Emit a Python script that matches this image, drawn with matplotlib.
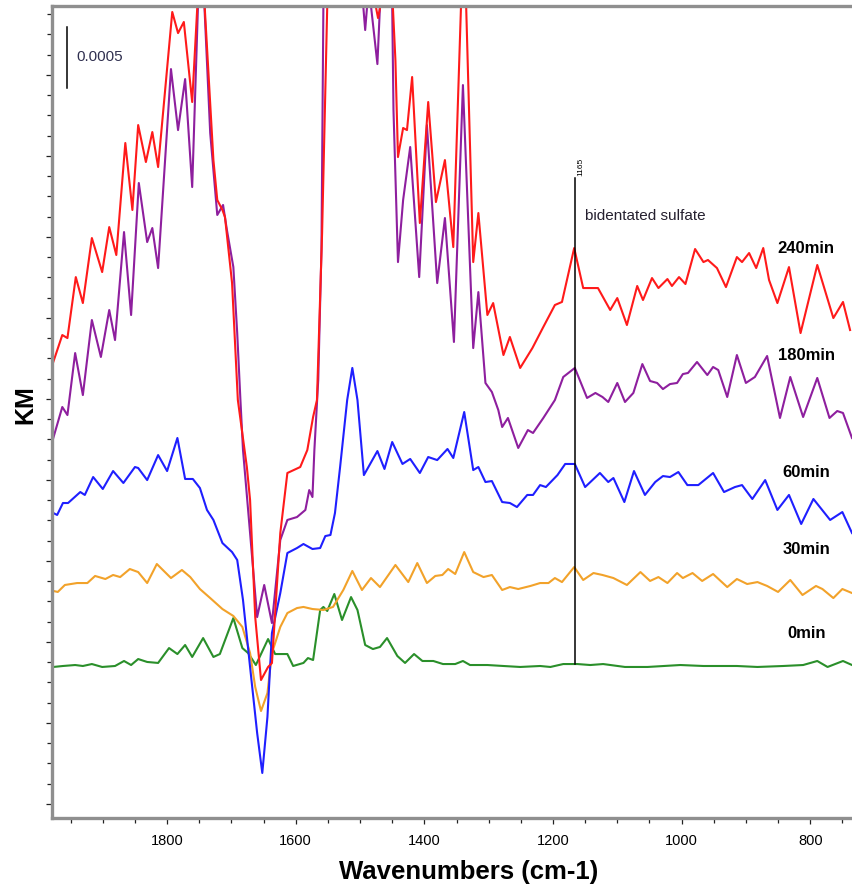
import matplotlib
matplotlib.use("Agg")
import matplotlib.pyplot as plt
import numpy as np
from matplotlib.ticker import MultipleLocator, FixedLocator

plt.rcParams["font.family"] = ["Liberation Sans", "DejaVu Sans"]

# KM values in units of 1e-4 (scale bar = 0.0005 = 5 units); 75 = off the top of the plot
red_wn = [1977, 1963, 1955, 1942, 1931, 1917, 1901, 1890, 1879, 1865, 1854, 1845, 1833, 1823, 1814,
          1792, 1783, 1774, 1761, 1753, 1749, 1741, 1728, 1722, 1714, 1710, 1699, 1690, 1676, 1671,
          1663, 1654, 1643, 1637, 1624, 1613, 1593, 1582, 1573, 1567, 1559, 1551, 1500, 1475, 1472,
          1469, 1459, 1449, 1445, 1441, 1433, 1427, 1419, 1407, 1394, 1382, 1368, 1355, 1343, 1340,
          1335, 1324, 1316, 1302, 1293, 1277, 1267, 1251, 1232, 1215, 1197, 1186, 1167, 1153, 1130,
          1111, 1100, 1085, 1069, 1060, 1046, 1036, 1022, 1015, 1004, 994, 979, 966, 959, 945,
          931, 914, 906, 895, 884, 873, 864, 851, 833, 815, 789, 764, 749, 738]
red_km = [37.38, 39.59, 39.34, 44.34, 42.21, 47.54, 44.75, 48.44, 46.15, 55.33, 49.84, 56.80, 53.77, 56.23, 53.36,
          66.07, 64.34, 65.25, 58.69, 66.56, 75.0, 65.98, 53.93, 50.66, 49.84, 49.26, 43.85, 34.26, 28.77, 26.07,
          16.47, 11.31, 12.38, 12.70, 23.36, 28.28, 28.77, 30.16, 32.87, 34.26, 47.95, 66.56, 75.0, 66.39, 65.57,
          66.39, 75.0, 66.56, 62.13, 54.18, 56.56, 56.39, 60.74, 48.77, 58.69, 50.49, 53.93, 46.80, 66.56, 75.0,
          66.56, 45.57, 49.59, 41.23, 42.21, 37.95, 39.43, 36.89, 38.52, 40.25, 42.05, 42.30, 46.72, 43.44, 43.44,
          41.64, 42.62, 40.41, 43.61, 42.46, 44.26, 43.44, 44.18, 43.61, 44.34, 43.77, 46.64, 45.57, 45.74, 45.08,
          43.52, 45.98, 45.57, 46.31, 45.08, 46.72, 44.10, 42.21, 45.16, 39.75, 45.33, 40.98, 42.30, 40.00]

purple_wn = [1977, 1963, 1955, 1943, 1931, 1917, 1903, 1890, 1881, 1867, 1856, 1844, 1831, 1823, 1814,
             1794, 1783, 1772, 1761, 1752, 1747, 1742, 1733, 1722, 1713, 1707, 1697, 1691, 1686, 1682,
             1671, 1660, 1649, 1637, 1624, 1613, 1598, 1585, 1579, 1574, 1571, 1565, 1560, 1557, 1531,
             1495, 1492, 1489, 1483, 1473, 1469, 1459, 1450, 1448, 1441, 1433, 1422, 1408, 1396, 1380,
             1368, 1354, 1340, 1324, 1316, 1305, 1295, 1285, 1279, 1270, 1254, 1239, 1231, 1215, 1197,
             1184, 1166, 1147, 1134, 1123, 1114, 1100, 1088, 1075, 1061, 1049, 1038, 1029, 1018, 1007,
             998, 990, 976, 960, 951, 943, 929, 914, 900, 886, 867, 847, 831, 811, 789,
             770, 758, 749, 735]
purple_km = [31.15, 33.69, 33.03, 38.11, 34.67, 40.82, 37.79, 41.64, 39.18, 48.03, 41.23, 52.05, 47.21, 48.36, 45.08,
             61.39, 56.39, 60.57, 51.72, 66.56, 75.0, 66.56, 56.15, 49.43, 50.25, 48.20, 45.16, 39.75, 34.26, 30.16,
             23.36, 16.47, 19.10, 15.98, 22.79, 24.43, 24.67, 25.25, 26.88, 26.31, 30.16, 35.90, 46.56, 66.56, 75.0,
             66.56, 64.59, 66.56, 66.56, 61.80, 66.56, 75.0, 66.56, 58.03, 45.57, 50.66, 55.00, 44.34, 56.80, 43.85,
             49.18, 39.02, 60.08, 38.52, 43.11, 35.66, 34.92, 33.44, 32.05, 32.79, 30.33, 31.80, 31.56, 32.79, 34.26,
             36.15, 36.89, 34.43, 34.84, 34.51, 34.10, 35.66, 34.10, 34.84, 37.21, 35.82, 35.66, 35.16, 35.57, 35.66,
             36.39, 36.48, 37.38, 36.31, 36.97, 36.72, 34.51, 37.95, 35.66, 36.15, 37.87, 32.79, 36.15, 32.87, 36.07,
             32.79, 33.36, 33.20, 31.15]

blue_wn = [1977, 1971, 1962, 1954, 1935, 1928, 1915, 1900, 1884, 1868, 1850, 1845, 1831, 1814, 1800,
           1784, 1772, 1760, 1749, 1738, 1728, 1714, 1699, 1691, 1682, 1671, 1660, 1652, 1644, 1637,
           1624, 1613, 1598, 1588, 1574, 1562, 1554, 1546, 1539, 1531, 1520, 1512, 1504, 1494, 1473,
           1462, 1450, 1434, 1422, 1407, 1394, 1380, 1364, 1355, 1338, 1324, 1316, 1305, 1295, 1279,
           1267, 1256, 1240, 1231, 1220, 1211, 1193, 1181, 1166, 1150, 1127, 1114, 1106, 1089, 1074,
           1057, 1041, 1029, 1018, 1005, 991, 974, 951, 934, 917, 906, 890, 870, 851, 833,
           814, 795, 769, 750, 735]
blue_km = [25.00, 24.84, 25.82, 25.82, 26.72, 26.48, 27.95, 26.97, 28.44, 27.46, 28.77, 28.69, 27.70, 29.75, 28.44,
           31.15, 27.79, 27.79, 27.05, 25.25, 24.43, 22.54, 21.80, 21.15, 17.87, 12.38, 6.97, 3.69, 8.28, 15.16,
           18.44, 21.72, 22.13, 22.46, 22.05, 22.13, 23.11, 23.20, 25.00, 28.77, 34.26, 36.89, 34.26, 28.11, 30.08,
           28.61, 30.82, 29.02, 29.43, 28.28, 29.59, 29.34, 30.25, 29.51, 33.28, 28.52, 28.77, 27.54, 27.62, 25.90,
           25.82, 25.49, 26.48, 26.48, 27.29, 27.13, 28.11, 29.02, 29.02, 27.13, 28.28, 27.54, 27.87, 25.90, 28.44,
           26.48, 27.54, 28.03, 27.95, 28.36, 27.29, 27.29, 28.28, 26.72, 27.13, 27.29, 26.15, 27.70, 25.25, 26.48,
           24.10, 26.15, 24.43, 25.08, 23.36]

orange_wn = [1977, 1970, 1959, 1940, 1924, 1912, 1896, 1884, 1873, 1858, 1845, 1831, 1816, 1794, 1777,
             1764, 1749, 1733, 1714, 1697, 1683, 1671, 1663, 1654, 1644, 1637, 1624, 1613, 1598, 1588,
             1574, 1557, 1542, 1526, 1512, 1497, 1483, 1469, 1445, 1425, 1411, 1396, 1383, 1372, 1363,
             1352, 1338, 1324, 1308, 1295, 1279, 1267, 1254, 1235, 1220, 1207, 1197, 1186, 1167, 1153,
             1137, 1123, 1106, 1085, 1064, 1049, 1036, 1022, 1007, 998, 983, 968, 951, 929, 914,
             898, 882, 867, 850, 831, 812, 791, 781, 764, 750, 735]
orange_km = [18.61, 18.53, 19.10, 19.26, 19.26, 19.84, 19.59, 19.92, 19.75, 20.41, 20.16, 19.26, 20.82, 19.67, 20.33,
             19.75, 18.77, 18.03, 17.13, 16.56, 15.66, 13.52, 10.74, 8.77, 10.24, 13.52, 15.66, 16.80, 17.21, 17.30,
             17.13, 17.05, 17.30, 18.69, 20.25, 18.69, 19.67, 18.93, 20.74, 19.34, 20.90, 19.26, 19.84, 19.92, 20.41,
             20.00, 21.80, 20.16, 19.75, 19.92, 18.69, 18.93, 18.77, 19.02, 19.26, 19.26, 19.67, 19.34, 20.57, 19.51,
             20.08, 19.92, 19.67, 19.10, 20.16, 19.43, 19.75, 19.26, 20.08, 19.67, 20.08, 19.43, 20.00, 18.93, 19.59,
             19.18, 19.34, 19.02, 18.53, 19.51, 18.28, 19.02, 18.77, 18.03, 18.77, 18.44]

green_wn = [1977, 1962, 1943, 1931, 1917, 1901, 1881, 1867, 1856, 1845, 1831, 1814, 1797, 1784, 1772,
            1761, 1744, 1728, 1718, 1697, 1683, 1674, 1662, 1643, 1632, 1613, 1604, 1588, 1581, 1573,
            1562, 1557, 1551, 1540, 1528, 1514, 1504, 1492, 1480, 1469, 1458, 1442, 1430, 1416, 1403,
            1386, 1371, 1352, 1340, 1329, 1302, 1277, 1251, 1220, 1204, 1184, 1162, 1142, 1122, 1088,
            1053, 1002, 966, 914, 882, 842, 811, 789, 773, 749, 735]
green_km = [12.38, 12.46, 12.54, 12.46, 12.62, 12.38, 12.46, 12.87, 12.54, 13.03, 12.79, 12.71, 13.93, 13.44, 14.18,
            13.20, 14.75, 13.20, 13.44, 16.39, 13.93, 13.52, 12.54, 14.67, 13.44, 13.44, 12.46, 12.71, 13.11, 12.95,
            17.05, 17.30, 16.97, 18.36, 16.23, 18.11, 17.05, 14.18, 13.85, 14.02, 14.75, 13.28, 12.71, 13.44, 12.87,
            12.87, 12.62, 12.62, 12.87, 12.54, 12.54, 12.46, 12.38, 12.46, 12.38, 12.62, 12.62, 12.54, 12.62, 12.38,
            12.38, 12.54, 12.46, 12.46, 12.38, 12.46, 12.54, 12.87, 12.38, 12.87, 12.54]

labels = ["240min", "180min", "60min", "30min", "0min"]
label_km = [46.72, 37.95, 28.36, 22.0, 15.16]
colors = ["#ff1a1a", "#8e1f9e", "#1f1fff", "#f2a22a", "#2a8f2a"]

marker_wn = 1165
marker_top = 52.46
marker_bottom = 12.62

fig = plt.figure(figsize=(8.52, 8.94), dpi=100)
ax = fig.add_axes([52 / 852, 1 - 818 / 894, 800 / 852, 812 / 894])

series = [(red_wn, red_km), (purple_wn, purple_km), (blue_wn, blue_km),
          (orange_wn, orange_km), (green_wn, green_km)]
for (wn, km), c in zip(series[::-1], colors[::-1]):
    ax.plot(wn, km, color=c, lw=1.5, solid_joinstyle="round")

ax.set_xlim(1979, 735)
ax.set_ylim(0, 66.56)

for s in ["left", "top", "bottom"]:
    ax.spines[s].set_color("#8f8f8f")
    ax.spines[s].set_linewidth(2.4)
ax.spines["right"].set_visible(False)

ax.xaxis.set_major_locator(MultipleLocator(200))
ax.xaxis.set_minor_locator(MultipleLocator(50))
ax.yaxis.set_major_locator(FixedLocator(np.arange(1.15, 66, 6.64)))
ax.yaxis.set_minor_locator(FixedLocator(np.arange(1.15, 66, 1.66)))
ax.tick_params(axis="both", which="both", direction="out", color="#222222", width=0.9)
ax.tick_params(axis="both", which="major", length=4.5)
ax.tick_params(axis="both", which="minor", length=3.5)
ax.tick_params(axis="y", labelleft=False)
ax.tick_params(axis="x", pad=7, labelsize=10.5)

# marker line at 1165
ax.plot([marker_wn, marker_wn], [marker_bottom, marker_top], color="black", lw=1.1)
ax.text(1162, 52.62, "1165", rotation=90, fontsize=6, ha="left", va="bottom")
ax.text(1150, 49.34, "bidentated sulfate", fontsize=11, color="#25202f", ha="left", va="center")

# scale bar
ax.plot([1955.5, 1955.5], [59.84, 64.84], color="black", lw=1.1)
ax.text(1941, 62.38, "0.0005", fontsize=11, color="#303050", ha="left", va="center")

for lab, y in zip(labels, label_km):
    ax.text(806, y, lab, fontsize=12, fontweight="bold", ha="center", va="center")

fig.text(469 / 852, 1 - 872 / 894, "Wavenumbers (cm-1)", fontsize=18.5, fontweight="bold",
         ha="center", va="center")
fig.text(25 / 852, 1 - 405 / 894, "KM", rotation=90, fontsize=18, fontweight="bold",
         ha="center", va="center")

fig.savefig("out.png", dpi=100)
